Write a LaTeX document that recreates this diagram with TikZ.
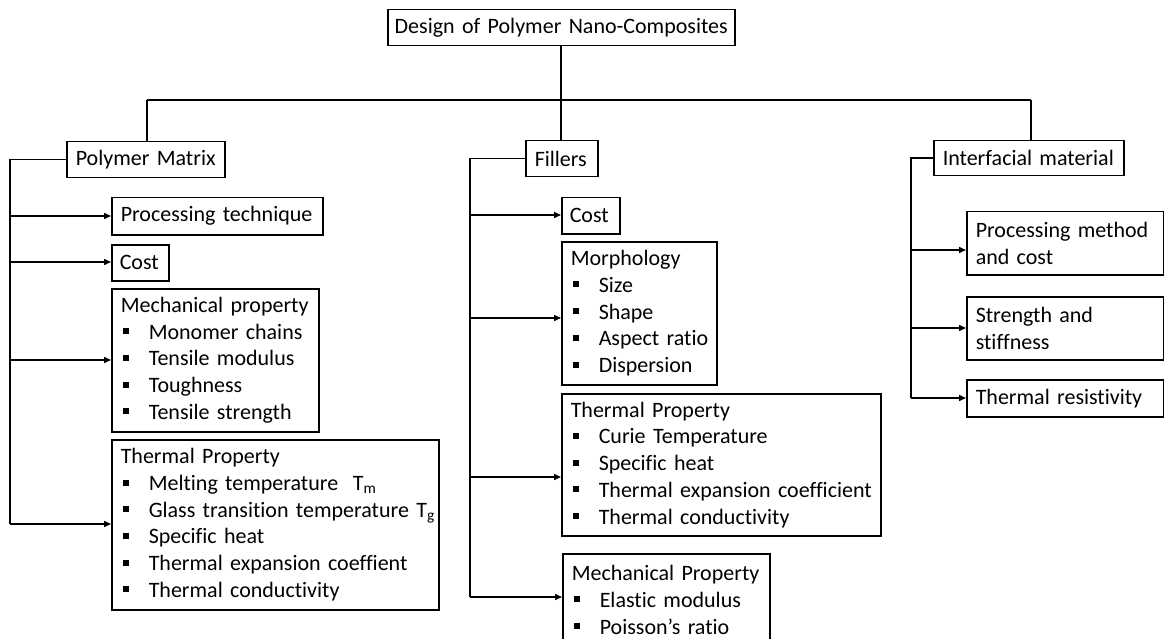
\documentclass[tikz,border=0pt]{standalone}
\usepackage{fontspec}
\setmainfont{Carlito}[RawFeature=-liga, WordSpace=0.8]
\usetikzlibrary{arrows.meta}
\newcommand\bul{\makebox[28pt][l]{\hspace{2pt}\rule[5pt]{6pt}{6pt}}}
\newcommand\bl[1]{\mbox{\bul #1}}
\newcommand\oneline[1]{\mbox{#1}}
\tikzset{
  box/.style={draw, line width=1.5pt, anchor=north west, inner xsep=9pt, inner ysep=0pt,
    align=left, font=\fontsize{22}{26.7}\selectfont,
    execute at begin node={\hyphenpenalty=10000\exhyphenpenalty=10000\hbadness=10000\hfuzz=50pt}},
  conn/.style={line width=1.5pt},
  arr/.style={line width=1.5pt, -{Triangle[length=7pt,width=6pt]}}
}
\begin{document}
\begin{tikzpicture}[x=1pt,y=-1pt]
\useasboundingbox (0,0) rectangle (1164,639);
\clip (0,0) rectangle (1164,639);
\fill[white] (0,0) rectangle (1164,639);
% top
\node[box, align=center, inner xsep=0pt, text width=347pt, minimum height=36pt] (top) at (387,9) {\oneline{Design of Polymer Nano-Composites}};
% level 1
\node[box, text width=140pt, minimum height=36pt] (pm) at (66,141) {\oneline{Polymer Matrix}};
\node[box, text width=54pt, minimum height=36pt] (fil) at (525,140) {\oneline{Fillers}};
\node[box, text width=172pt, minimum height=35pt] (im) at (933,140) {\oneline{Interfacial material}};
% polymer matrix children
\node[box, text width=193pt, minimum height=37pt] (pmproc) at (111,197) {\oneline{Processing technique}};
\node[box, inner xsep=8pt, text width=41pt, minimum height=36pt] (pmcost) at (111,244) {\oneline{Cost}};
\node[box, text width=189pt, minimum height=143pt] (pmmech) at (111,288) {\oneline{Mechanical property}\\ \bl{Monomer chains}\\ \bl{Tensile modulus}\\ \bl{Toughness}\\ \bl{Tensile strength}};
\node[box, text width=309pt, minimum height=170pt] (pmth) at (111,439) {\oneline{Thermal Property}\\ \bl{Melting temperature\ \ T\textsubscript{m}}\\ \bl{Glass transition temperature T\textsubscript{g}}\\ \bl{Specific heat}\\ \bl{Thermal expansion coeffient}\\ \bl{Thermal conductivity}};
% fillers children
\node[box, inner xsep=8pt, text width=42pt, minimum height=36pt] (fcost) at (561,197) {\oneline{Cost}};
\node[box, text width=137pt, minimum height=143pt] (fmorph) at (561,241) {\oneline{Morphology}\\ \bl{Size}\\ \bl{Shape}\\ \bl{Aspect ratio}\\ \bl{Dispersion}};
\node[box, text width=301pt, minimum height=142pt] (fth) at (561,393) {\oneline{Thermal Property}\\ \bl{Curie Temperature}\\ \bl{Specific heat}\\ \bl{Thermal expansion coefficient}\\ \bl{Thermal conductivity}};
\node[box, text width=189pt, minimum height=92pt] (fmech) at (562,553) {\oneline{Mechanical Property}\\ \bl{Elastic modulus}\\ \bl{Poisson’s ratio}};
% interfacial children
\node[box, text width=179pt, minimum height=63pt] (improc) at (966,211) {\oneline{Processing method}\\ \oneline{and cost}};
\node[box, text width=179pt, minimum height=63pt] (imstr) at (966,296) {\oneline{Strength and}\\ \oneline{stiffness}};
\node[box, text width=179pt, minimum height=37pt] (imth) at (966,379) {\oneline{Thermal resistivity}};
% tree
\coordinate (tj) at (561,100);
\coordinate (hl) at (147,100);
\coordinate (hr) at (1031,100);
\draw[conn] (top.south -| tj) -- (tj);
\draw[conn] (hl) -- (hr);
\draw[conn] (hl) -- (pm.north -| hl);
\draw[conn] (tj) -- (fil.north -| tj);
\draw[conn] (hr) -- (im.north -| hr);
% polymer matrix bus
\coordinate (pmb) at (10,524);
\coordinate (pma1) at (10,216);
\coordinate (pma2) at (10,262);
\coordinate (pma3) at (10,360);
\draw[conn] (pm.west) -| (pmb);
\draw[arr] (pma1) -- (pmproc.west |- pma1);
\draw[arr] (pma2) -- (pmcost.west |- pma2);
\draw[arr] (pma3) -- (pmmech.west |- pma3);
\draw[arr] (pmb) -- (pmth.west |- pmb);
% fillers bus
\coordinate (fb) at (470,597);
\coordinate (fa1) at (470,215);
\coordinate (fa2) at (470,318);
\coordinate (fa3) at (470,477);
\draw[conn] (fil.west) -| (fb);
\draw[arr] (fa1) -- (fcost.west |- fa1);
\draw[arr] (fa2) -- (fmorph.west |- fa2);
\draw[arr] (fa3) -- (fth.west |- fa3);
\draw[arr] (fb) -- (fmech.west |- fb);
% interfacial bus
\coordinate (ib) at (911,398);
\coordinate (ia1) at (911,250);
\coordinate (ia2) at (911,328);
\draw[conn] (im.west) -| (ib);
\draw[arr] (ia1) -- (improc.west |- ia1);
\draw[arr] (ia2) -- (imstr.west |- ia2);
\draw[arr] (ib) -- (imth.west |- ib);
\end{tikzpicture}
\end{document}
